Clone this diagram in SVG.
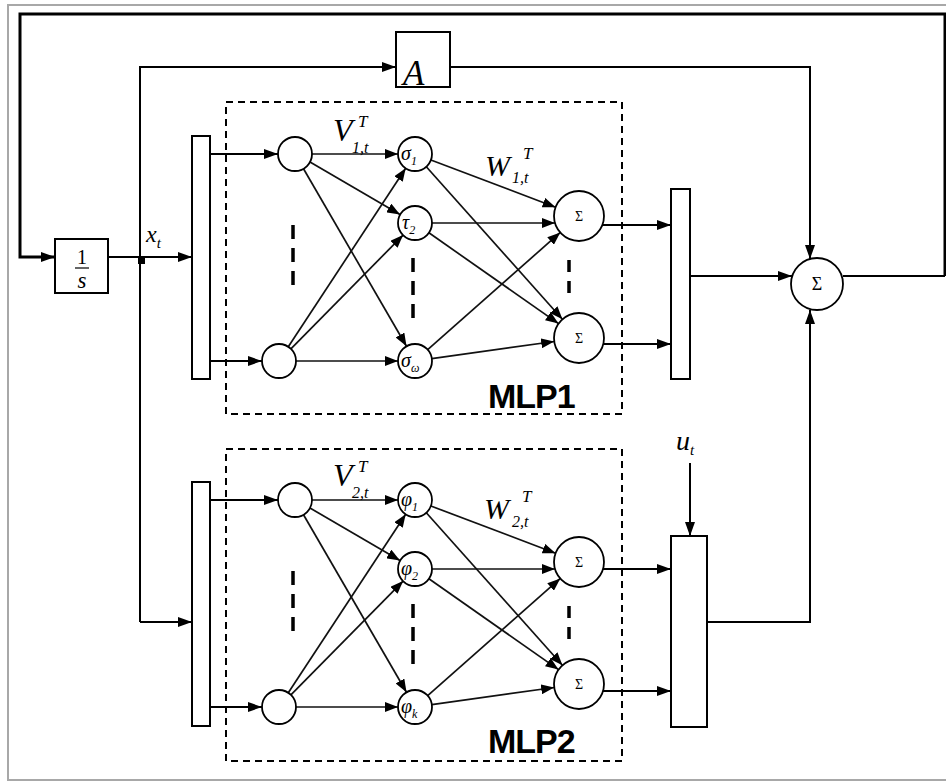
<svg xmlns="http://www.w3.org/2000/svg" width="946" height="781" viewBox="0 0 946 781">
<style>
.ln{fill:none;stroke:#000;stroke-width:2}
.th{fill:none;stroke:#000;stroke-width:3}
.nl{fill:none;stroke:#111;stroke-width:1.7}
.box{fill:#fff;stroke:#000;stroke-width:2}
.nd{fill:#fff;stroke:#000;stroke-width:1.8}
.dash{fill:none;stroke:#000;stroke-width:2;stroke-dasharray:7 5}
.vd{stroke:#000;stroke-width:3.5;stroke-dasharray:14 9}
.m{font-family:"Liberation Serif",serif;font-style:italic;fill:#000}
.sg{font-family:"Liberation Serif",serif;fill:#000;text-anchor:middle}
.mlp{font-family:"Liberation Sans",Arial,sans-serif;font-weight:bold;font-size:34px;letter-spacing:-1px;fill:#000}
</style>
<defs>
<marker id="a" markerUnits="userSpaceOnUse" markerWidth="14" markerHeight="10" refX="14" refY="5" orient="auto"><path d="M0,0 L14,5 L0,10 z"/></marker>
<marker id="s" markerUnits="userSpaceOnUse" markerWidth="13" markerHeight="10" refX="13" refY="5" orient="auto"><path d="M0,0 L13,5 L0,10 z"/></marker>
</defs>
<rect x="0" y="0" width="946" height="781" fill="#fff"/>
<rect x="8" y="5" width="945" height="775" fill="none" stroke="#a8a8a8" stroke-width="2"/>

<g id="connectors">
  <path class="th" d="M945,276 V14 H20 V257 H55" marker-end="url(#a)"/>
  <path class="ln" d="M108,257 H192" marker-end="url(#a)"/>
  <rect x="138" y="256" width="7" height="8" fill="#000"/>
  <path class="ln" d="M140,622 V67 H396" marker-end="url(#a)"/>
  <path class="ln" d="M140,622 H192" marker-end="url(#a)"/>
  <path class="ln" d="M450,67 H810 V259" marker-end="url(#a)"/>
  <path class="ln" d="M843,276 H945"/>
  <path class="ln" d="M690,276 H792" marker-end="url(#a)"/>
  <path class="ln" d="M707,622 H810 V310" marker-end="url(#a)"/>
  <path class="ln" d="M690,463 V536" marker-end="url(#a)"/>
  <path class="ln" d="M210,154 H278" marker-end="url(#a)"/>
  <path class="ln" d="M210,361 H262" marker-end="url(#a)"/>
  <path class="ln" d="M210,500 H278" marker-end="url(#a)"/>
  <path class="ln" d="M210,707 H262" marker-end="url(#a)"/>
  <path class="ln" d="M602,225 H671" marker-end="url(#a)"/>
  <path class="ln" d="M603,344 H671" marker-end="url(#a)"/>
  <path class="ln" d="M603,569 H671" marker-end="url(#a)"/>
  <path class="ln" d="M603,691 H671" marker-end="url(#a)"/>
  <g id="edges-mlp1">
    <path class="nl" d="M312,154 L398,154" marker-end="url(#s)"/>
    <path class="nl" d="M310,162 L400,214.5" marker-end="url(#s)"/>
    <path class="nl" d="M303.5,168.7 L406.5,346.3" marker-end="url(#s)"/>
    <path class="nl" d="M288.3,346.8 L405.7,168.2" marker-end="url(#s)"/>
    <path class="nl" d="M290.9,348.9 L403.1,235.1" marker-end="url(#s)"/>
    <path class="nl" d="M296,361 L398,361" marker-end="url(#s)"/>
    <path class="nl" d="M430.9,160 L555.6,207.2" marker-end="url(#s)"/>
    <path class="nl" d="M426.3,166.7 L562.4,319.3" marker-end="url(#s)"/>
    <path class="nl" d="M432,223 L555,223" marker-end="url(#s)"/>
    <path class="nl" d="M428.9,232.8 L558.5,323.6" marker-end="url(#s)"/>
    <path class="nl" d="M427.7,349.7 L560.3,232.4" marker-end="url(#s)"/>
    <path class="nl" d="M431.8,358.6 L554.2,341.5" marker-end="url(#s)"/>
  </g>
  <g id="edges-mlp2" transform="translate(0,346)">
    <path class="nl" d="M312,154 L398,154" marker-end="url(#s)"/>
    <path class="nl" d="M310,162 L400,214.5" marker-end="url(#s)"/>
    <path class="nl" d="M303.5,168.7 L406.5,346.3" marker-end="url(#s)"/>
    <path class="nl" d="M288.3,346.8 L405.7,168.2" marker-end="url(#s)"/>
    <path class="nl" d="M290.9,348.9 L403.1,235.1" marker-end="url(#s)"/>
    <path class="nl" d="M296,361 L398,361" marker-end="url(#s)"/>
    <path class="nl" d="M430.9,160 L555.6,207.2" marker-end="url(#s)"/>
    <path class="nl" d="M426.3,166.7 L562.4,319.3" marker-end="url(#s)"/>
    <path class="nl" d="M432,223 L555,223" marker-end="url(#s)"/>
    <path class="nl" d="M428.9,232.8 L558.5,323.6" marker-end="url(#s)"/>
    <path class="nl" d="M427.7,349.7 L560.3,232.4" marker-end="url(#s)"/>
    <path class="nl" d="M431.8,358.6 L554.2,341.5" marker-end="url(#s)"/>
  </g>
</g>

<g id="integrator">
  <rect class="box" x="55" y="239" width="53" height="54"/>
  <text class="sg" x="82" y="264" font-size="20">1</text>
  <line x1="75" y1="268" x2="89" y2="268" stroke="#000" stroke-width="1.2"/>
  <text class="m" x="82" y="288" font-size="23" text-anchor="middle">s</text>
</g>
<g id="label-xt"><text class="m" x="146" y="242" font-size="24">x<tspan font-size="15" dy="6">t</tspan></text></g>

<g id="A">
  <rect class="box" x="396" y="32" width="54" height="55"/>
  <text class="m" x="403" y="85" font-size="35">A</text>
</g>

<g id="sum">
  <circle class="nd" cx="817" cy="284" r="26"/>
  <text class="sg" x="817" y="290" font-size="18">Σ</text>
</g>

<g id="mlp1">
  <rect class="dash" x="226" y="102" width="396" height="312"/>
  <text class="mlp" x="488" y="408">MLP1</text>
  <g id="mlp1-in-bar"><rect class="box" x="192" y="136" width="18" height="243"/></g>
  <g id="mlp1-out-bar"><rect class="box" x="671" y="189" width="19" height="190"/></g>
  <g id="mlp1-i1"><circle class="nd" cx="295" cy="154" r="17"/></g>
  <g id="mlp1-i2"><circle class="nd" cx="279" cy="361" r="17"/></g>
  <g id="mlp1-h1"><circle class="nd" cx="415" cy="154" r="17"/><text class="m" x="401" y="160" font-size="20">σ<tspan font-size="12" dy="5">1</tspan></text></g>
  <g id="mlp1-h2"><circle class="nd" cx="415" cy="223" r="17"/><text class="m" x="402" y="229" font-size="20">τ<tspan font-size="12" dy="5">2</tspan></text></g>
  <g id="mlp1-h3"><circle class="nd" cx="415" cy="361" r="17"/><text class="m" x="401" y="367" font-size="20">σ<tspan font-size="12" dy="5">ω</tspan></text></g>
  <g id="mlp1-o1"><circle class="nd" cx="579" cy="216" r="25"/><text class="sg" x="579" y="221" font-size="14">Σ</text></g>
  <g id="mlp1-o2"><circle class="nd" cx="579" cy="338" r="25"/><text class="sg" x="579" y="343" font-size="14">Σ</text></g>
  <line class="vd" x1="293" y1="225" x2="293" y2="289"/>
  <line class="vd" x1="413" y1="258" x2="413" y2="323"/>
  <line class="vd" x1="569" y1="260" x2="569" y2="294" style="stroke-dasharray:12 9"/>
  <g id="label-v1"><text class="m" x="333" y="141" font-size="32">V</text><text class="m" x="358" y="127" font-size="17">T</text><text class="m" x="352" y="153" font-size="16">1,t</text></g>
  <g id="label-w1"><text class="m" x="485" y="176" font-size="30">W</text><text class="m" x="523" y="159" font-size="17">T</text><text class="m" x="512" y="183" font-size="16">1,t</text></g>
</g>

<g id="mlp2">
  <rect class="dash" x="226" y="449" width="396" height="312"/>
  <text class="mlp" x="488" y="753">MLP2</text>
  <g id="mlp2-in-bar"><rect class="box" x="192" y="482" width="18" height="244"/></g>
  <g id="mlp2-out-bar"><rect class="box" x="671" y="536" width="36" height="191"/></g>
  <g id="mlp2-i1"><circle class="nd" cx="295" cy="500" r="17"/></g>
  <g id="mlp2-i2"><circle class="nd" cx="279" cy="707" r="17"/></g>
  <g id="mlp2-h1"><circle class="nd" cx="415" cy="500" r="17"/><text class="m" x="401" y="506" font-size="20">φ<tspan font-size="12" dy="5">1</tspan></text></g>
  <g id="mlp2-h2"><circle class="nd" cx="415" cy="569" r="17"/><text class="m" x="401" y="575" font-size="20">φ<tspan font-size="12" dy="5">2</tspan></text></g>
  <g id="mlp2-h3"><circle class="nd" cx="415" cy="707" r="17"/><text class="m" x="401" y="713" font-size="20">φ<tspan font-size="12" dy="5">k</tspan></text></g>
  <g id="mlp2-o1"><circle class="nd" cx="579" cy="562" r="25"/><text class="sg" x="579" y="567" font-size="14">Σ</text></g>
  <g id="mlp2-o2"><circle class="nd" cx="579" cy="684" r="25"/><text class="sg" x="579" y="689" font-size="14">Σ</text></g>
  <line class="vd" x1="293" y1="571" x2="293" y2="635"/>
  <line class="vd" x1="413" y1="604" x2="413" y2="669"/>
  <line class="vd" x1="569" y1="606" x2="569" y2="640" style="stroke-dasharray:12 9"/>
  <g id="label-v2"><text class="m" x="333" y="486" font-size="32">V</text><text class="m" x="358" y="472" font-size="17">T</text><text class="m" x="352" y="498" font-size="16">2,t</text></g>
  <g id="label-w2"><text class="m" x="484" y="519" font-size="30">W</text><text class="m" x="522" y="502" font-size="17">T</text><text class="m" x="512" y="527" font-size="16">2,t</text></g>
</g>

<g id="label-ut"><text class="m" x="676" y="450" font-size="28">u<tspan font-size="15" dy="5">t</tspan></text></g>
</svg>
